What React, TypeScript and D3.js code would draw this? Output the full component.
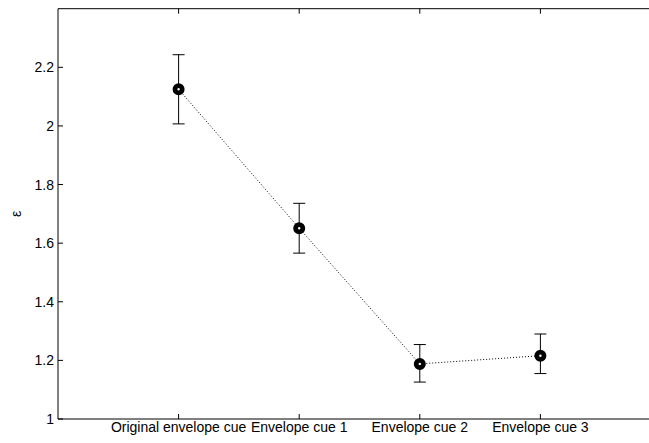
import React from "react";
import * as d3 from "d3";

const categories = ["Original envelope cue", "Envelope cue 1", "Envelope cue 2", "Envelope cue 3"];
const means = [2.125, 1.651, 1.188, 1.216];
const upper = [2.243, 1.736, 1.254, 1.290];
const lower = [2.007, 1.566, 1.126, 1.155];
const yTicks = [1, 1.2, 1.4, 1.6, 1.8, 2, 2.2];

const W = 649;
const H = 443;
const left = 58;
const top = 8.7;
const bottom = 419;

export default function App() {
  const x = d3.scaleLinear().domain([0, 5]).range([left, left + 5 * 120.6]);
  const y = d3.scaleLinear().domain([1, 2.4]).range([bottom, top]);
  const idx = categories.map((_, i) => i + 1);
  const line = d3
    .line<number>()
    .x((i) => x(i))
    .y((i) => y(means[i - 1]));
  const right = x(5);
  const font = "Liberation Sans, Arial, sans-serif";
  return (
    <svg
      width={W}
      height={H}
      style={{ position: "absolute", left: 0, top: 0, background: "#fff" }}
    >
      <rect x={0} y={0} width={W} height={H} fill="#fff" />
      {/* axes box */}
      <line x1={left} x2={right} y1={top} y2={top} stroke="#000" strokeWidth={1} />
      <line x1={left} x2={right} y1={bottom} y2={bottom} stroke="#000" strokeWidth={1} />
      <line x1={left} x2={left} y1={top} y2={bottom} stroke="#000" strokeWidth={1} />
      {/* y ticks */}
      {yTicks.map((t) => (
        <g key={t}>
          <line x1={left} x2={left + 5} y1={y(t)} y2={y(t)} stroke="#000" />
          <text
            x={left - 4}
            y={y(t) + 5}
            textAnchor="end"
            fontFamily={font}
            fontSize={14}
            fill="#000"
          >
            {String(t)}
          </text>
        </g>
      ))}
      {/* x ticks */}
      {idx.map((i) => (
        <g key={i}>
          <line x1={x(i)} x2={x(i)} y1={bottom} y2={bottom - 5} stroke="#000" />
          <line x1={x(i)} x2={x(i)} y1={top} y2={top + 5} stroke="#000" />
          <text
            x={x(i)}
            y={432}
            textAnchor="middle"
            fontFamily={font}
            fontSize={14}
            fill="#000"
          >
            {categories[i - 1]}
          </text>
        </g>
      ))}
      <text
        transform={`translate(21,${y(1.7)}) rotate(-90)`}
        textAnchor="middle"
        fontFamily={font}
        fontSize={14}
        fill="#000"
      >
        ε
      </text>
      {/* dotted line */}
      <path
        d={line(idx) || ""}
        fill="none"
        stroke="#000"
        strokeWidth={1}
        strokeDasharray="1,2"
      />
      {/* error bars */}
      {idx.map((i) => (
        <g key={"e" + i} stroke="#000" strokeWidth={1}>
          <line x1={x(i)} x2={x(i)} y1={y(upper[i - 1])} y2={y(lower[i - 1])} />
          <line x1={x(i) - 6} x2={x(i) + 6} y1={y(upper[i - 1])} y2={y(upper[i - 1])} />
          <line x1={x(i) - 6} x2={x(i) + 6} y1={y(lower[i - 1])} y2={y(lower[i - 1])} />
        </g>
      ))}
      {/* markers */}
      {idx.map((i) => (
        <circle
          key={"m" + i}
          cx={x(i)}
          cy={y(means[i - 1])}
          r={3.6}
          fill="#fff"
          stroke="#000"
          strokeWidth={4.8}
        />
      ))}
    </svg>
  );
}
